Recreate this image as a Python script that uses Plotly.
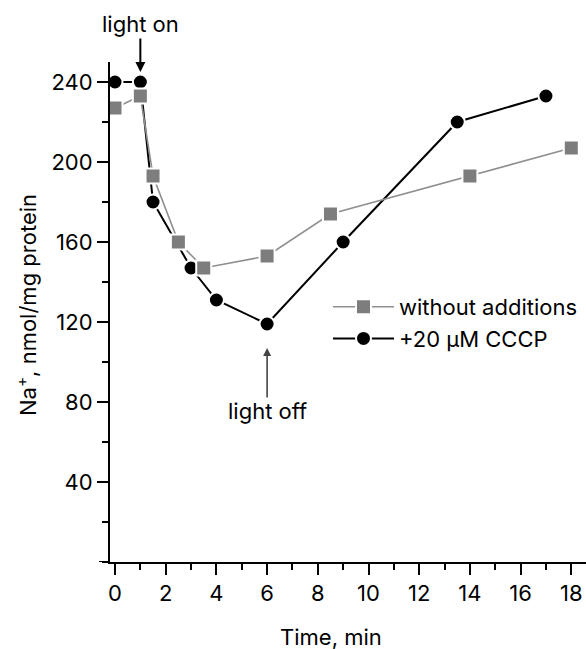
import plotly.graph_objects as go

# Data
time_ctrl = [0, 1, 1.5, 2.5, 3.5, 6, 8.5, 14, 18]
na_ctrl = [227, 233, 193, 160, 147, 153, 174, 193, 207]

time_cccp = [0, 1, 1.5, 3, 4, 6, 9, 13.5, 17]
na_cccp = [240, 240, 180, 147, 131, 119, 160, 220, 233]

x_ticks = [0, 2, 4, 6, 8, 10, 12, 14, 16, 18]
y_ticks = [40, 80, 120, 160, 200, 240]

FONT = "Inter, Liberation Sans, Arial, sans-serif"
FS = 22

fig = go.Figure()

fig.add_trace(go.Scatter(
    x=time_cccp, y=na_cccp, mode="lines+markers", name="+20 μM CCCP",
    line=dict(color="#000000", width=2),
    marker=dict(symbol="circle", size=15, color="#000000",
                line=dict(color="#ffffff", width=2)),
    legendrank=2, cliponaxis=False,
))
fig.add_trace(go.Scatter(
    x=time_ctrl, y=na_ctrl, mode="lines+markers", name="without additions",
    line=dict(color="#8f8f8f", width=1.6),
    marker=dict(symbol="square", size=15, color="#7d7d7d",
                line=dict(color="#ffffff", width=2)),
    legendrank=1, cliponaxis=False,
))

# light on / light off labels with arrows
fig.add_annotation(x=1, y=245, xref="x", yref="y", ax=0, ay=-48,
                   text="light on", showarrow=True,
                   arrowhead=2, arrowsize=1, arrowwidth=2, arrowcolor="#000000",
                   font=dict(family=FONT, size=FS, color="#000"))
fig.add_annotation(x=6, y=107, xref="x", yref="y", ax=0, ay=63,
                   text="light off", showarrow=True, borderpad=0,
                   arrowhead=2, arrowsize=1, arrowwidth=1.6, arrowcolor="#444444",
                   font=dict(family=FONT, size=FS, color="#000"))

# axis titles placed as in the reference
fig.add_annotation(x=(331 - 110) / 476, y=-(637 - 562) / 500, xref="paper", yref="paper",
                   text="Time, min", showarrow=False, xanchor="center", yanchor="middle",
                   font=dict(family=FONT, size=FS, color="#000"))
fig.add_annotation(x=-(110 - 26) / 476, y=(562 - 305) / 500, xref="paper", yref="paper",
                   text="Na<sup>+</sup>, nmol/mg protein", showarrow=False, textangle=-90,
                   xanchor="center", yanchor="middle",
                   font=dict(family=FONT, size=FS, color="#000"))

# tick at y = 0 (extends the baseline to the left of the y axis)
fig.add_shape(type="line", xref="paper", yref="y", x0=-11 / 476, x1=0, y0=0, y1=0,
              line=dict(color="#000000", width=2))

axis_common = dict(
    showline=True, linecolor="#000000", linewidth=2, showgrid=False, zeroline=False,
    ticks="outside", ticklen=11, tickwidth=2, tickcolor="#000000",
    tickfont=dict(family=FONT, size=FS, color="#000000"),
)

fig.update_xaxes(
    range=[(110 - 115) / 25.35, (586 - 115) / 25.35],
    tickvals=x_ticks,
    minor=dict(dtick=1, tick0=0, ticks="outside", ticklen=6, tickwidth=2, tickcolor="#000"),
    **axis_common,
)
fig.update_yaxes(
    range=[0, 250],
    tickvals=y_ticks,
    minor=dict(dtick=20, tick0=0, ticks="outside", ticklen=6, tickwidth=2, tickcolor="#000"),
    **axis_common,
)

fig.update_layout(
    width=586, height=649,
    margin=dict(l=110, r=0, t=62, b=87, pad=0, autoexpand=False),
    plot_bgcolor="#ffffff", paper_bgcolor="#ffffff",
    font=dict(family=FONT, size=FS, color="#000000"),
    showlegend=True,
    legend=dict(
        x=(328 - 110) / 476, y=(562 - 286) / 500, xanchor="left", yanchor="top",
        bgcolor="rgba(0,0,0,0)", borderwidth=0,
        font=dict(family=FONT, size=FS, color="#000000"),
        itemwidth=61, tracegroupgap=0,
    ),
)

fig.write_html("out.html")
